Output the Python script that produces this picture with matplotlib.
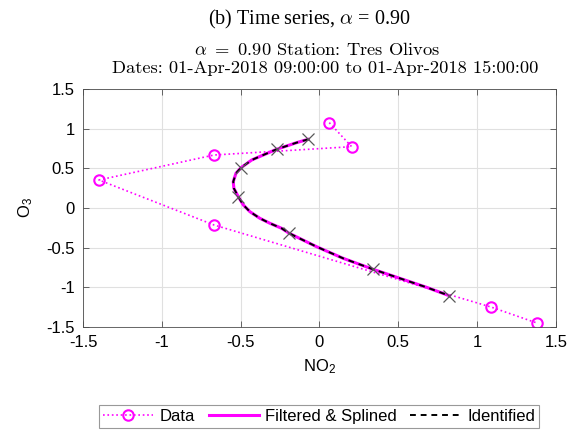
import matplotlib
matplotlib.use("Agg")
import matplotlib.pyplot as plt

plt.rcParams['mathtext.fontset'] = 'cm'
plt.rcParams['font.family'] = ['Liberation Sans', 'DejaVu Sans']

# hourly observations (normalised NO2 / O3)
data_no2 = [0.062, 0.204, -0.669, -1.399, -0.669, 1.088, 1.38]
data_o3 = [1.076, 0.773, 0.668, 0.353, -0.214, -1.248, -1.45]

# filtered and splined trajectory
spline_no2 = [-0.071, -0.145, -0.208, -0.272, -0.357, -0.430, -0.498, -0.530,
              -0.547, -0.543, -0.515, -0.483, -0.441, -0.378, -0.314, -0.240,
              -0.192, -0.018, 0.151, 0.341, 0.511, 0.680, 0.824]
spline_o3 = [0.866, 0.824, 0.782, 0.740, 0.668, 0.605, 0.508, 0.437,
             0.332, 0.248, 0.142, 0.038, -0.047, -0.130, -0.193, -0.256,
             -0.319, -0.488, -0.635, -0.773, -0.887, -1.0, -1.106]

# identified model states at the sample times
ident_no2 = [-0.071, -0.272, -0.498, -0.515, -0.192, 0.341, 0.824]
ident_o3 = [0.866, 0.740, 0.508, 0.142, -0.319, -0.773, -1.106]

ticks = [-1.5, -1, -0.5, 0, 0.5, 1, 1.5]
tick_labels = ['-1.5', '-1', '-0.5', '0', '0.5', '1', '1.5']

fig = plt.figure(figsize=(5.78, 4.32), dpi=100)
ax = fig.add_axes([0.1436, 0.243, 0.8183, 0.551])

h1, = ax.plot(data_no2, data_o3, ':', color='magenta', lw=1.2,
              marker='o', markersize=7.5, markerfacecolor='none',
              markeredgewidth=1.5, label='Data')
h2, = ax.plot(spline_no2, spline_o3, '-', color='magenta', lw=2.2,
              label='Filtered & Splined')
h3, = ax.plot(spline_no2, spline_o3, '--', color='black', lw=1.4,
              dashes=(3, 2.5), label='Identified')
ax.plot(ident_no2, ident_o3, 'x', color='0.35', markersize=8,
        markeredgewidth=0.9)

ax.set_xlim(-1.5, 1.5)
ax.set_ylim(-1.5, 1.5)
ax.set_xticks(ticks)
ax.set_xticklabels(tick_labels)
ax.set_yticks(ticks)
ax.set_yticklabels(tick_labels)
ax.grid(True, color='0.88', lw=0.8)
ax.set_axisbelow(True)
ax.tick_params(direction='in', top=True, right=True, length=4,
               labelsize=12, color='0.3', width=0.6, pad=6)
for s in ax.spines.values():
    s.set_color('0.3')
    s.set_linewidth(0.6)

ax.set_xlabel(r'NO$\mathregular{_2}$', fontsize=12, labelpad=5)
ax.set_ylabel(r'O$\mathregular{_3}$', fontsize=12, labelpad=8)

# three title lines
fig.text(0.535, 0.9433, r'(b) Time series, $\alpha$ = 0.90',
         ha='center', va='baseline', fontsize=14.5, family='Liberation Serif')
fig.text(0.548, 0.8727, r'$\alpha\ =\ 0.90$ Station: Tres Olivos',
         ha='center', va='baseline', fontsize=13.3, family='cmr10')
fig.text(0.563, 0.831, 'Dates: 01-Apr-2018 09:00:00 to 01-Apr-2018 15:00:00',
         ha='center', va='baseline', fontsize=13.3, family='cmr10')

leg = fig.legend(handles=[h1, h2, h3], loc='center',
                 bbox_to_anchor=(0.552, 0.036), ncol=3, fontsize=12,
                 frameon=True, fancybox=False, edgecolor='0.5',
                 handlelength=3, numpoints=1, borderpad=0.25,
                 columnspacing=0.8, handletextpad=0.4)
leg.get_frame().set_linewidth(0.8)

fig.savefig('out.png', dpi=100)
